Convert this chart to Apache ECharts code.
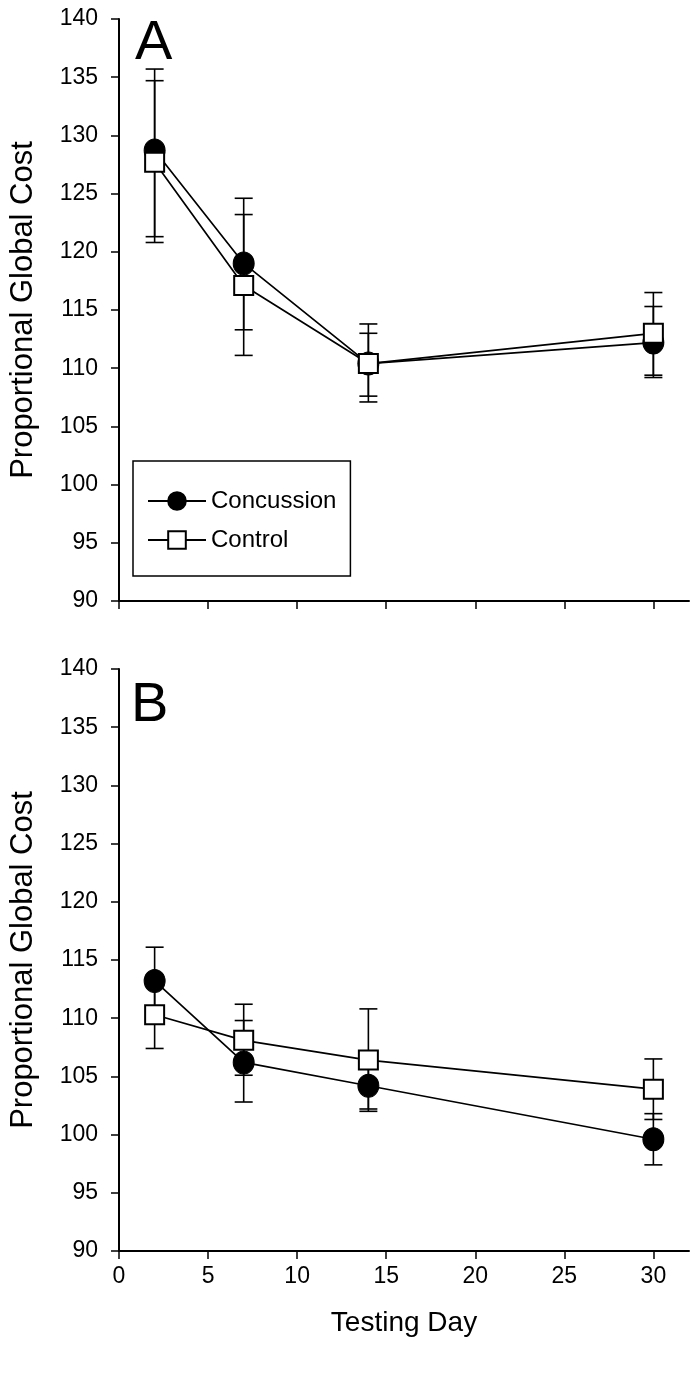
<!DOCTYPE html>
<html lang="en">
<head>
  <meta charset="UTF-8">
  <title>Proportional Global Cost</title>
  <script src="https://cdn.jsdelivr.net/npm/echarts@6/dist/echarts.min.js"></script>
  <style>
    html, body { margin: 0; padding: 0; background: #fff; }
    #chart { width: 700px; height: 1374px; }
  </style>
</head>
<body>
<div id="chart"></div>
<script>
  // 数据
  var days = [2, 7, 14, 30];
  var xTicks = [0, 5, 10, 15, 20, 25, 30];

  // panel A
  var concA = [128.7, 119.0, 110.4, 112.2];
  var concAHi = [135.7, 124.6, 113.8, 115.3];
  var concALo = [121.3, 113.3, 107.1, 109.2];
  var ctrlA = [127.7, 117.1, 110.4, 113.0];
  var ctrlAHi = [134.7, 123.2, 113.0, 116.5];
  var ctrlALo = [120.8, 111.1, 107.6, 109.4];

  // panel B
  var concB = [113.2, 106.2, 104.2, 99.6];
  var concBHi = [116.1, 109.8, 106.3, 101.8];
  var concBLo = [110.3, 102.8, 102.2, 97.4];
  var ctrlB = [110.3, 108.1, 106.4, 103.9];
  var ctrlBHi = [113.3, 111.2, 110.8, 106.5];
  var ctrlBLo = [107.4, 105.1, 102.0, 101.3];

  var FONT = "'Liberation Sans', Arial, sans-serif";

  function pairs(y) {
    return days.map(function (d, i) { return [d, y[i]]; });
  }
  function bars(lo, hi) {
    return days.map(function (d, i) { return [d, lo[i], hi[i]]; });
  }

  // 误差线
  function renderErr(params, api) {
    var x = api.value(0);
    var top = api.coord([x, api.value(2)]);
    var bot = api.coord([x, api.value(1)]);
    var w = 9;
    var st = { stroke: '#000', lineWidth: 1.6 };
    return {
      type: 'group',
      children: [
        { type: 'line', shape: { x1: top[0], y1: top[1], x2: bot[0], y2: bot[1] }, style: st },
        { type: 'line', shape: { x1: top[0] - w, y1: top[1], x2: top[0] + w, y2: top[1] }, style: st },
        { type: 'line', shape: { x1: bot[0] - w, y1: bot[1], x2: bot[0] + w, y2: bot[1] }, style: st }
      ]
    };
  }

  function errSeries(idx, lo, hi) {
    return {
      type: 'custom',
      xAxisIndex: idx,
      yAxisIndex: idx,
      renderItem: renderErr,
      encode: { x: 0, y: [1, 2] },
      data: bars(lo, hi),
      z: 1,
      silent: true
    };
  }

  function concSeries(idx, y) {
    return {
      name: 'Concussion',
      type: 'line',
      xAxisIndex: idx,
      yAxisIndex: idx,
      data: pairs(y),
      symbol: 'circle',
      symbolSize: [21, 23],
      itemStyle: { color: '#000', borderColor: '#000', borderWidth: 1 },
      lineStyle: { color: '#000', width: 1.7 },
      z: 3,
      animation: false
    };
  }

  function ctrlSeries(idx, y) {
    return {
      name: 'Control',
      type: 'line',
      xAxisIndex: idx,
      yAxisIndex: idx,
      data: pairs(y),
      symbol: 'rect',
      symbolSize: 19,
      itemStyle: { color: '#fff', borderColor: '#000', borderWidth: 2 },
      lineStyle: { color: '#000', width: 1.7 },
      z: 4,
      animation: false
    };
  }

  function xAxis(idx, showLabel) {
    return {
      type: 'value',
      gridIndex: idx,
      min: 0,
      max: 32,
      name: showLabel ? 'Testing Day' : '',
      nameLocation: 'middle',
      nameGap: 58,
      nameTextStyle: { color: '#000', fontSize: 28, fontFamily: FONT },
      splitLine: { show: false },
      axisLine: { show: true, lineStyle: { color: '#000', width: 2 } },
      axisTick: { show: true, inside: false, length: 8, customValues: xTicks, lineStyle: { color: '#000', width: 1.5 } },
      axisLabel: { show: showLabel, customValues: xTicks, margin: 14, color: '#000', fontSize: 23, fontFamily: FONT }
    };
  }

  function yAxis(idx) {
    return {
      type: 'value',
      gridIndex: idx,
      min: 90,
      max: 140,
      interval: 5,
      name: 'Proportional Global Cost',
      nameLocation: 'middle',
      nameRotate: 90,
      nameGap: 80,
      nameTextStyle: { color: '#000', fontSize: 31, fontFamily: FONT },
      splitLine: { show: false },
      axisLine: { show: true, lineStyle: { color: '#000', width: 2 } },
      axisTick: { show: true, inside: false, length: 8, lineStyle: { color: '#000', width: 1.5 } },
      axisLabel: { margin: 21, color: '#000', fontSize: 23, fontFamily: FONT }
    };
  }

  var myChart = echarts.init(document.getElementById('chart'), null, { renderer: 'canvas' });
  var option = {
    backgroundColor: '#fff',
    animation: false,
    grid: [
      { left: 115, right: 11, top: 19, height: 582 },
      { left: 113, right: 11, top: 669, height: 582 }
    ],
    xAxis: [xAxis(0, false), xAxis(1, true)],
    yAxis: [yAxis(0), yAxis(1)],
    legend: {
      data: ['Concussion', 'Control'],
      orient: 'vertical',
      left: 133,
      top: 461,
      padding: [28, 14, 24, 14],
      itemWidth: 58,
      itemHeight: 22,
      itemGap: 15,
      borderColor: '#000',
      borderWidth: 1.5,
      borderRadius: 0,
      textStyle: { color: '#000', fontSize: 24, fontFamily: FONT }
    },
    graphic: [
      { type: 'text', left: 135, top: 16, style: { text: 'A', fontSize: 56, fontFamily: FONT, fill: '#000' } },
      { type: 'text', left: 131, top: 678, style: { text: 'B', fontSize: 56, fontFamily: FONT, fill: '#000' } }
    ],
    series: [
      errSeries(0, concALo, concAHi),
      errSeries(0, ctrlALo, ctrlAHi),
      concSeries(0, concA),
      ctrlSeries(0, ctrlA),
      errSeries(1, concBLo, concBHi),
      errSeries(1, ctrlBLo, ctrlBHi),
      concSeries(1, concB),
      ctrlSeries(1, ctrlB)
    ]
  };
  option && myChart.setOption(option);
</script>
</body>
</html>
